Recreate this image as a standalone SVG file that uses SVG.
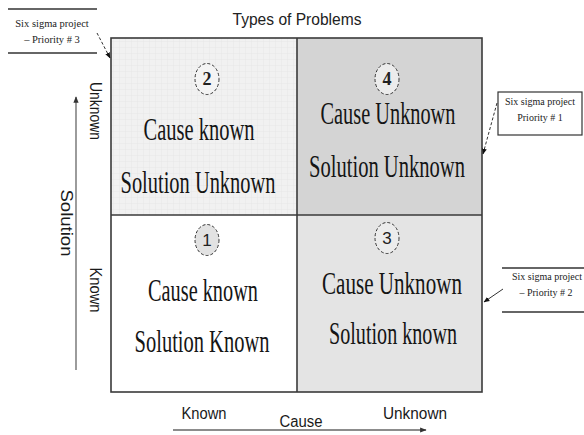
<svg xmlns="http://www.w3.org/2000/svg" width="584" height="435" viewBox="0 0 584 435">
<defs>
<style>
.q{font-family:"Liberation Serif","Times New Roman",serif;font-size:31px;fill:#151515;text-anchor:middle}
.num{font-family:"Liberation Serif",serif;font-size:18px;fill:#222;text-anchor:middle;font-weight:bold}
.nums{font-family:"Liberation Sans",Arial,sans-serif;font-size:17px;fill:#222;text-anchor:middle}
.ax{font-family:"Liberation Sans",Arial,sans-serif;font-size:16px;fill:#1a1a1a;text-anchor:middle}
.call{font-family:"Liberation Serif","Times New Roman",serif;fill:#222;text-anchor:middle}
.circ{stroke:#333;stroke-width:1;stroke-dasharray:3 2}
.grid{fill:none;stroke:#3a3a3a;stroke-width:1.6}
.lead{fill:none;stroke:#333;stroke-width:1;stroke-dasharray:3 2}
.rule{stroke:#333;stroke-width:1.5}
.axis{stroke:#666;stroke-width:1.3;fill:none}
</style>
<pattern id="gp" width="6" height="6" patternUnits="userSpaceOnUse">
<rect width="6" height="6" fill="#f1f1f1"/>
<path d="M6 0V6M0 6H6" stroke="#e2e2e2" stroke-width="0.8"/>
</pattern>
<marker id="ah" viewBox="0 0 10 10" refX="9" refY="5" markerWidth="6" markerHeight="6" orient="auto-start-reverse">
<path d="M0 1L10 5L0 9z" fill="#111"/>
</marker>
<marker id="ax" viewBox="0 0 10 10" refX="9" refY="5" markerWidth="5" markerHeight="5" orient="auto-start-reverse">
<path d="M0 1L10 5L0 9z" fill="#333"/>
</marker>
</defs>
<rect width="584" height="435" fill="#ffffff"/>

<text x="297" y="25" font-family="Liberation Sans, Arial, sans-serif" font-size="16" fill="#222" text-anchor="middle" textLength="129" lengthAdjust="spacingAndGlyphs">Types of Problems</text>

<g id="q2">
<rect x="111" y="38" width="186" height="177" fill="url(#gp)"/>
<ellipse class="circ" cx="207" cy="79" rx="12" ry="15.5" fill="#f4f4f4"/>
<text class="num" x="207" y="85">2</text>
<text class="q" transform="translate(199,140) scale(0.661,1)">Cause known</text>
<text class="q" transform="translate(198,193) scale(0.659,1)">Solution Unknown</text>
</g>

<g id="q4">
<rect x="297" y="38" width="185" height="177" fill="#d4d4d4"/>
<ellipse class="circ" cx="387" cy="79" rx="12" ry="15.5" fill="#ececec"/>
<text class="num" x="387" y="85">4</text>
<text class="q" transform="translate(388,124) scale(0.656,1)">Cause Unknown</text>
<text class="q" transform="translate(387,177) scale(0.664,1)">Solution Unknown</text>
</g>

<g id="q1">
<rect x="111" y="215" width="186" height="177" fill="#ffffff"/>
<ellipse class="circ" cx="207" cy="240" rx="12" ry="15.5" fill="#e2e2e2"/>
<text class="nums" x="207" y="246">1</text>
<text class="q" transform="translate(203,301) scale(0.655,1)">Cause known</text>
<text class="q" transform="translate(202,352) scale(0.661,1)">Solution Known</text>
</g>

<g id="q3">
<rect x="297" y="215" width="185" height="177" fill="#e4e4e4"/>
<ellipse class="circ" cx="387" cy="238" rx="12" ry="15.5" fill="#ececec"/>
<text class="nums" x="387" y="244">3</text>
<text class="q" transform="translate(392,294) scale(0.68,1)">Cause Unknown</text>
<text class="q" transform="translate(393,344) scale(0.649,1)">Solution known</text>
</g>

<g id="grid-lines">
<rect class="grid" x="111" y="38" width="371" height="354"/>
<line class="grid" x1="297" y1="38" x2="297" y2="392"/>
<line class="grid" x1="111" y1="215" x2="482" y2="215"/>
</g>

<g id="axis-solution">
<text class="ax" transform="translate(90,111) rotate(90)" textLength="58" lengthAdjust="spacingAndGlyphs">Unknown</text>
<text class="ax" transform="translate(61,223) rotate(90)" textLength="67" lengthAdjust="spacingAndGlyphs">Solution</text>
<text class="ax" transform="translate(90,290) rotate(90)" textLength="45" lengthAdjust="spacingAndGlyphs">Known</text>
</g>

<g id="axis-cause">
<text class="ax" x="204" y="419" textLength="45" lengthAdjust="spacingAndGlyphs">Known</text>
<text class="ax" x="301" y="427" textLength="43" lengthAdjust="spacingAndGlyphs">Cause</text>
<text class="ax" x="415" y="419" textLength="64" lengthAdjust="spacingAndGlyphs">Unknown</text>
</g>

<g id="callout-3">
<line class="rule" x1="8" y1="9" x2="97" y2="9"/>
<line class="rule" x1="8" y1="53" x2="97" y2="53"/>
<text class="call" font-size="10.5" x="52" y="27">Six sigma project</text>
<text class="call" font-size="10.5" x="52" y="43">– Priority # 3</text>
</g>

<g id="callout-1">
<rect x="498" y="92" width="84" height="43" fill="#ffffff" stroke="#333" stroke-width="1.2"/>
<text class="call" font-size="10" x="540" y="105">Six sigma project</text>
<text class="call" font-size="10" x="540" y="121">Priority # 1</text>
</g>

<g id="callout-2">
<line class="rule" x1="502" y1="268" x2="584" y2="268"/>
<line class="rule" x1="502" y1="312" x2="584" y2="312"/>
<text class="call" font-size="10" x="547" y="280">Six sigma project</text>
<text class="call" font-size="10" x="546" y="296">– Priority # 2</text>
</g>

<g id="connectors">
<line class="axis" x1="76" y1="370" x2="76" y2="97" marker-end="url(#ax)"/>
<line class="axis" x1="173" y1="430" x2="426" y2="430" marker-end="url(#ax)"/>
<line class="lead" x1="97" y1="33" x2="110" y2="58" marker-end="url(#ah)"/>
<line class="lead" x1="497" y1="103" x2="483" y2="154" marker-end="url(#ah)"/>
<line x1="503" y1="289" x2="484" y2="302" stroke="#333" stroke-width="1" marker-end="url(#ah)"/>
</g>
</svg>
